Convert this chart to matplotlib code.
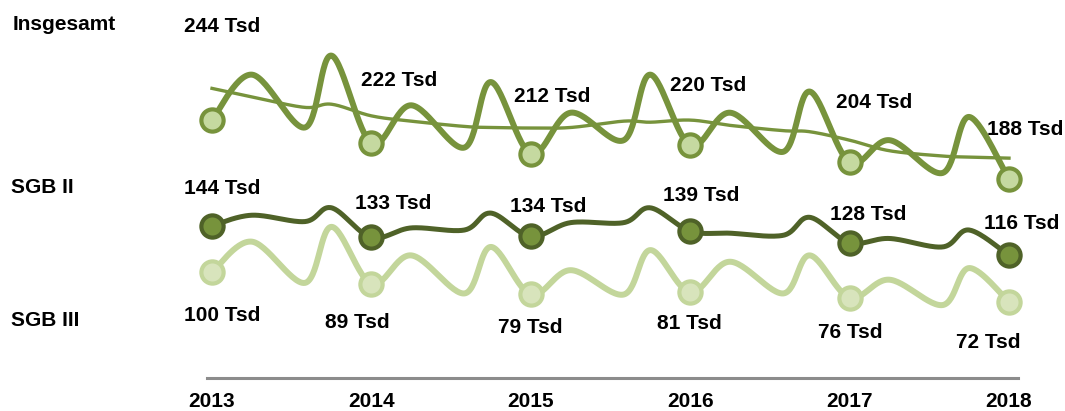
import numpy as np
import matplotlib
matplotlib.use("Agg")
import matplotlib.pyplot as plt

plt.rcParams['font.family'] = ['Liberation Sans', 'DejaVu Sans']

# Zeitpunkte (Monate): Jan, Apr, Aug, Okt je Jahr, 2013 bis Jan 2018
jahre = [2013, 2014, 2015, 2016, 2017, 2018]
monate_im_jahr = [1, 4, 8, 10]
zeitpunkte = [(j, m) for j in jahre[:-1] for m in monate_im_jahr] + [(2018, 1)]

insgesamt = [244, 287, 237, 305, 222, 258, 218, 280, 212, 251, 225, 287,
             220, 251, 214, 271, 204, 225, 194, 247, 188]
insgesamt_trend = [274, 266, 256, 259, 248, 243, 238, 237, 236.5, 237, 243, 242,
                   244, 239, 234, 233, 225, 215, 210, 209, 208]
sgb2 = [144, 154, 148, 161, 133, 142, 140, 156, 134, 147, 147, 161,
        139, 137, 135, 152, 128, 132, 124, 140, 116]
sgb3 = [100, 129, 90, 143, 89, 116, 80, 124, 79, 102, 79, 121,
        81, 110, 80, 116, 76, 93, 69, 104, 72]

etiketten_ins = ["244 Tsd", "222 Tsd", "212 Tsd", "220 Tsd", "204 Tsd", "188 Tsd"]
etiketten_sgb2 = ["144 Tsd", "133 Tsd", "134 Tsd", "139 Tsd", "128 Tsd", "116 Tsd"]
etiketten_sgb3 = ["100 Tsd", "89 Tsd", "79 Tsd", "81 Tsd", "76 Tsd", "72 Tsd"]

x = np.array([(j - 2013) * 12 + (m - 1) for j, m in zeitpunkte], dtype=float)
jan_idx = [i for i, (j, m) in enumerate(zeitpunkte) if m == 1]


def glaetten(xs, ys, n=30):
    # Catmull-Rom, wie die geglaetteten Linien in Excel
    xs = np.asarray(xs, float)
    ys = np.asarray(ys, float)
    px = np.r_[xs[0], xs, xs[-1]]
    py = np.r_[ys[0], ys, ys[-1]]
    t = np.linspace(0, 1, n, endpoint=False)
    ox, oy = [], []
    for i in range(1, len(px) - 2):
        for p, o in ((px, ox), (py, oy)):
            p0, p1, p2, p3 = p[i - 1], p[i], p[i + 1], p[i + 2]
            o.append(0.5 * (2 * p1 + (-p0 + p2) * t + (2 * p0 - 5 * p1 + 4 * p2 - p3) * t ** 2
                            + (-p0 + 3 * p1 - 3 * p2 + p3) * t ** 3))
    ox.append([xs[-1]])
    oy.append([ys[-1]])
    return np.concatenate(ox), np.concatenate(oy)


fig = plt.figure(figsize=(10.65, 4.11), dpi=100)
ax = fig.add_axes([0, 0, 1, 1])

# Pixel -> Daten: 2013 bei x=212, 2018 bei x=1009; 0 bei y=378
px_pro_monat = (1009 - 212) / 60
ax.set_xlim(-212 / px_pro_monat, (1065 - 212) / px_pro_monat)
px_pro_tsd = 1.057
ax.set_ylim(-(411 - 378) / px_pro_tsd, 378 / px_pro_tsd)

serien = [
    (sgb3, "#c3d69b", 4.3, "#d8e4bc", "#c3d69b"),
    (sgb2, "#4f6228", 3.6, "#77933c", "#4f6228"),
    (insgesamt, "#77933c", 4.3, "#c5d9a0", "#77933c"),
]
for werte, farbe, lw, mface, medge in serien:
    sx, sy = glaetten(x, werte)
    ax.plot(sx, sy, color=farbe, lw=lw, solid_capstyle='round', zorder=2)
    ax.plot(x[jan_idx], np.array(werte)[jan_idx], ls='none', marker='o', ms=16,
            mfc=mface, mec=medge, mew=3, zorder=4)

tx, ty = glaetten(x, insgesamt_trend)
ax.plot(tx, ty, color="#77933c", lw=2.4, zorder=3)

# Wertbeschriftungen (Versatz in Pixeln zum Jahrespunkt)
versatz_ins = [(10, 94), (28, 63), (21, 57), (18, 60), (25, 60), (16, 50)]
versatz_sgb2 = [(10, 37), (22, 34), (17, 30), (11, 36), (19, 28), (13, 32)]
versatz_sgb3 = [(10, -43), (-14, -39), (-1, -33), (-1, -31), (1, -35), (-21, -41)]
for werte, etik, versatz in [(insgesamt, etiketten_ins, versatz_ins),
                             (sgb2, etiketten_sgb2, versatz_sgb2),
                             (sgb3, etiketten_sgb3, versatz_sgb3)]:
    for k, i in enumerate(jan_idx):
        ax.annotate(etik[k], xy=(x[i], werte[i]), xytext=versatz[k],
                    textcoords='offset pixels', ha='center', va='center',
                    fontsize=15, fontweight='bold', color='black', zorder=5)

fig.text(13 / 1065, 1 - 25 / 411, "Insgesamt", ha='left', va='center', fontsize=15, fontweight='bold')
fig.text(11 / 1065, 1 - 187 / 411, "SGB II", ha='left', va='center', fontsize=15, fontweight='bold')
fig.text(11 / 1065, 1 - 320 / 411, "SGB III", ha='left', va='center', fontsize=15, fontweight='bold')

# Achse
for s in ['left', 'right', 'top']:
    ax.spines[s].set_visible(False)
ax.spines['bottom'].set_position(('data', 0))
ax.spines['bottom'].set_bounds(-5 / px_pro_monat, 61 - 0.3)
ax.spines['bottom'].set_color('#8c8c8c')
ax.spines['bottom'].set_linewidth(2.2)
ax.set_xticks(x[jan_idx])
ax.set_xticklabels([str(j) for j in jahre], fontsize=15, fontweight='bold')
ax.tick_params(axis='x', length=0, pad=10)
ax.set_yticks([])

fig.savefig("out.png", dpi=100)
